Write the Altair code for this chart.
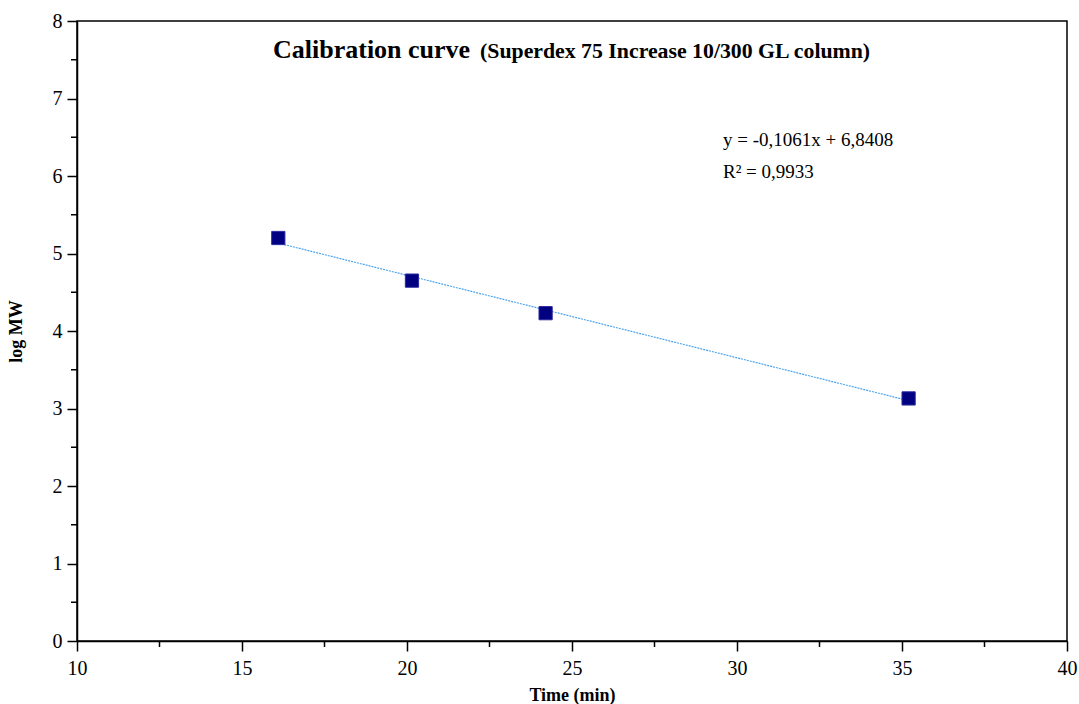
import altair as alt
import pandas as pd

# Data
time_min = [16.1, 20.15, 24.2, 35.2]
log_mw = [5.2, 4.65, 4.23, 3.13]

x_major = [10, 15, 20, 25, 30, 35, 40]
x_minor = [12.5, 17.5, 22.5, 27.5, 32.5, 37.5]
y_major = [0, 1, 2, 3, 4, 5, 6, 7, 8]
y_minor = [0.5, 1.5, 2.5, 3.5, 4.5, 5.5, 6.5, 7.5]

equation = "y = -0,1061x + 6,8408"
r2 = "R² = 0,9933"
title_main = "Calibration curve"
title_sub = "(Superdex 75 Increase 10/300 GL column)"

FONT = "Liberation Serif"
W, H = 990, 620

df = pd.DataFrame({"t": time_min, "logmw": log_mw})
xscale = alt.Scale(domain=[10, 40], nice=False, zero=False)
yscale = alt.Scale(domain=[0, 8], nice=False, zero=True)

base = alt.Chart(df)

fit = base.transform_regression("t", "logmw", method="linear").mark_line(
    color="#4da3f0", strokeWidth=1.2, strokeDash=[2, 1]
).encode(
    x=alt.X("t:Q", scale=xscale,
            axis=alt.Axis(values=x_major, format="d", title="Time (min)", titleFont=FONT,
                          titleFontSize=18, titleFontWeight="bold", titleColor="black",
                          labelFont=FONT, labelFontSize=20, labelColor="black",
                          labelFlush=False, labelOverlap=False,
                          domainColor="black", domainWidth=1.5, tickColor="black",
                          tickWidth=1.5, tickSize=10, labelPadding=7, titlePadding=8,
                          grid=False)),
    y=alt.Y("logmw:Q", scale=yscale,
            axis=alt.Axis(values=y_major, format="d", title="log MW", titleFont=FONT,
                          titleFontSize=18, titleFontWeight="bold", titleColor="black",
                          labelFont=FONT, labelFontSize=20, labelColor="black",
                          labelFlush=False, labelOverlap=False,
                          domainColor="black", domainWidth=1.5, tickColor="black",
                          tickWidth=1.5, tickSize=10, labelPadding=5, titlePadding=27,
                          grid=False)),
)

pts = base.mark_point(shape="square", filled=True, size=175, color="#000080",
                      stroke="#2b2ba0", strokeWidth=1, opacity=1).encode(
    x=alt.X("t:Q", scale=xscale),
    y=alt.Y("logmw:Q", scale=yscale),
)

xminor_df = pd.DataFrame({"v": x_minor})
xminor = alt.Chart(xminor_df).mark_rule(color="black", strokeWidth=1.5).encode(
    x=alt.X("v:Q", scale=xscale),
    y=alt.value(H),
    y2=alt.value(H + 6),
)
yminor_df = pd.DataFrame({"v": y_minor})
yminor = alt.Chart(yminor_df).mark_rule(color="black", strokeWidth=1.5).encode(
    y=alt.Y("v:Q", scale=yscale),
    x=alt.value(-6),
    x2=alt.value(0),
)

t_main = alt.Chart(pd.DataFrame({"s": [title_main]})).mark_text(
    font=FONT, fontSize=26, fontWeight="bold", color="black", align="left", baseline="middle"
).encode(text="s:N", x=alt.value(196), y=alt.value(29))
t_sub = alt.Chart(pd.DataFrame({"s": [title_sub]})).mark_text(
    font=FONT, fontSize=21.8, fontWeight="bold", color="black", align="left", baseline="middle"
).encode(text="s:N", x=alt.value(403), y=alt.value(30))

eq = alt.Chart(pd.DataFrame({"s": [equation]})).mark_text(
    font=FONT, fontSize=19, color="black", align="left", baseline="middle"
).encode(text="s:N", x=alt.value(646), y=alt.value(119))
r2t = alt.Chart(pd.DataFrame({"s": [r2]})).mark_text(
    font=FONT, fontSize=19, color="black", align="left", baseline="middle"
).encode(text="s:N", x=alt.value(646), y=alt.value(151))

chart = alt.layer(fit, pts, xminor, yminor, t_main, t_sub, eq, r2t).properties(
    width=W, height=H,
    autosize=alt.AutoSizeParams(type="none"),
    padding={"left": 77, "top": 21, "right": 12, "bottom": 63},
    background="white",
).configure_view(stroke="black", strokeWidth=1.5)

chart.save("out.html", embed_options={"renderer": "svg", "actions": False})
